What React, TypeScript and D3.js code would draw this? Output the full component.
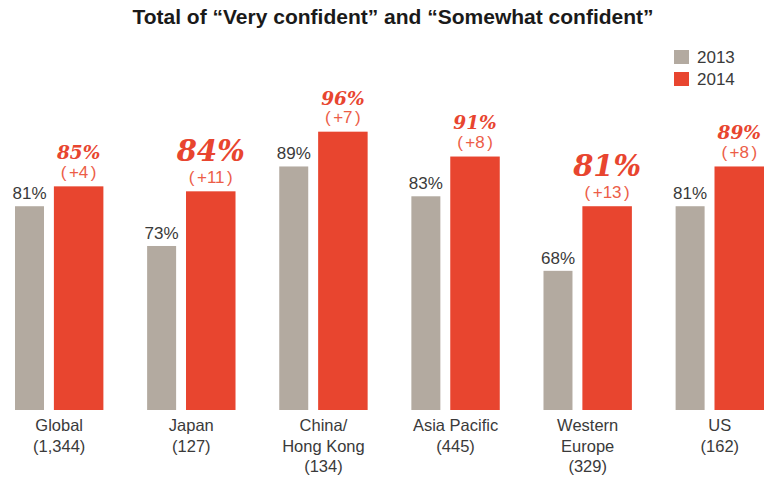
import React from "react";
import * as d3 from "d3";

const title = "Total of \u201cVery confident\u201d and \u201cSomewhat confident\u201d";
const categories = ["Global", "Japan", "China/Hong Kong", "Asia Pacific", "Western Europe", "US"];
const categoryLines = [
  ["Global", "(1,344)"],
  ["Japan", "(127)"],
  ["China/", "Hong Kong", "(134)"],
  ["Asia Pacific", "(445)"],
  ["Western", "Europe", "(329)"],
  ["US", "(162)"],
];
const values2013 = [81, 73, 89, 83, 68, 81];
const values2014 = [85, 84, 96, 91, 81, 89];
const changes = [4, 11, 7, 8, 13, 8];
const seriesNames = ["2013", "2014"];

const W = 771;
const H = 479;
const GRAY = "#b3aaa0";
const RED = "#e8452f";
const RED_LIGHT = "#ec5d47";
const TEXT = "#3a3a3a";

export default function App() {
  const x = d3.scaleBand<string>().domain(categories).range([15, 764]).paddingInner(0.331).paddingOuter(0);
  const sub = d3.scaleOrdinal<string, [number, number]>().domain(seriesNames).range([
    [0, 0.328],
    [0.44, 1],
  ]);
  const y = d3.scaleLinear().domain([40, 100]).range([410, 111.8]);
  const color = d3.scaleOrdinal<string, string>().domain(seriesNames).range([GRAY, RED]);
  const bw = x.bandwidth();

  return (
    <svg width={W} height={H} style={{ position: "absolute", left: 0, top: 0, background: "#fff" }}>
      <text x={393} y={23.5} textAnchor="middle" fontFamily="'Liberation Sans', Arial, sans-serif" fontWeight="bold" fontSize={21} fill="#1a1a1a">
        {title}
      </text>

      {seriesNames.map((s, i) => (
        <g key={s}>
          <rect x={674} y={50 + i * 22} width={15} height={14} fill={color(s)} />
          <text x={697} y={62.7 + i * 22} fontFamily="'Liberation Sans', Arial, sans-serif" fontSize={17} fill={TEXT}>
            {s}
          </text>
        </g>
      ))}

      {categories.map((c, i) => {
        const x0 = x(c)!;
        const [a0, a1] = sub("2013");
        const [b0, b1] = sub("2014");
        const gx = x0 + a0 * bw;
        const gw = (a1 - a0) * bw;
        const rx = x0 + b0 * bw;
        const rw = (b1 - b0) * bw;
        const gy = y(values2013[i]);
        const ry = y(values2014[i]);
        const big = changes[i] >= 10;
        return (
          <g key={c}>
            <rect x={gx} y={gy} width={gw} height={y(40) - gy} fill={GRAY} />
            <rect x={rx} y={ry} width={rw} height={y(40) - ry} fill={RED} />
            <text x={gx + gw / 2} y={gy - 7} textAnchor="middle" fontFamily="'Liberation Sans', Arial, sans-serif" fontSize={17} fill={TEXT}>
              {values2013[i]}%
            </text>
            <text x={rx + rw / 2} y={ry - 8.5} textAnchor="middle" fontFamily="'Liberation Sans', Arial, sans-serif" fontSize={17} fill={RED_LIGHT}>
              <tspan>(</tspan>
              <tspan dx={2.5}>{"+" + changes[i]}</tspan>
              <tspan dx={2.5}>)</tspan>
            </text>
            <text
              x={rx + rw / 2}
              y={ry - 8.5 - (big ? 21.6 : 18.6)}
              textAnchor="middle"
              fontFamily="'DejaVu Serif', serif"
              fontWeight="bold"
              fontStyle="italic"
              fontSize={big ? 29 : 18.5}
              fill={RED}
            >
              {values2014[i]}%
            </text>
            {categoryLines[i].map((line, j) => (
              <text key={j} x={x0 + bw / 2} y={431 + j * 20.5} textAnchor="middle" fontFamily="'Liberation Sans', Arial, sans-serif" fontSize={16.5} fill={TEXT}>
                {line}
              </text>
            ))}
          </g>
        );
      })}
    </svg>
  );
}
